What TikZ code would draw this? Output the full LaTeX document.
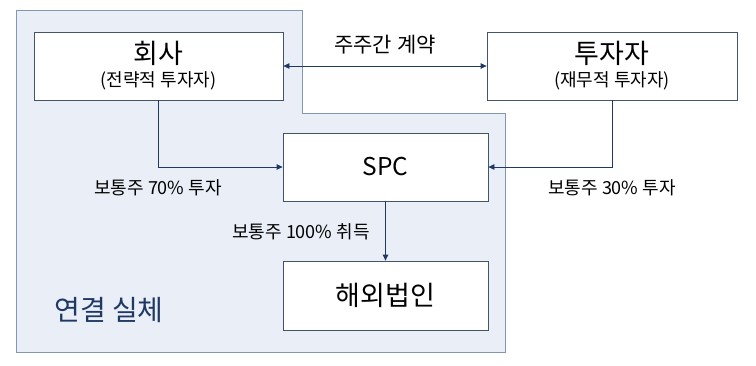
\documentclass[tikz,border=0pt]{standalone}
\usepackage{fontspec}
\setmainfont{Noto Sans CJK KR}
\usetikzlibrary{arrows.meta}
\definecolor{groupfill}{HTML}{E9EEF7}
\definecolor{groupline}{HTML}{8497B0}
\definecolor{boxline}{HTML}{44546A}
\definecolor{arrowblue}{HTML}{1F3864}
\newcommand{\bigtxt}{\fontsize{27}{30}\selectfont}
\newcommand{\smalltxt}{\fontsize{18}{21}\selectfont}
\begin{document}
\begin{tikzpicture}[x=1pt,y=-1pt,
  entity/.style={draw=boxline, fill=white, line width=0.8pt, inner sep=0pt,
    minimum height=68pt, align=center},
  flow/.style={-{Triangle[length=6pt,width=5.5pt]}, draw=arrowblue, line width=0.8pt},
  note/.style={font=\smalltxt, inner sep=0pt}]
  \useasboundingbox (0,0) rectangle (756,365);
  % consolidated group
  \draw[fill=groupfill, draw=groupline, line width=0.9pt]
    (16,10) -- (302,10) -- (302,113) -- (505,113) -- (505,352) -- (16,352) -- cycle;
  \node[text=arrowblue, font=\fontsize{28}{30}\selectfont] (group) at (109,310) {연결 실체};
  % entities
  \node[entity, minimum width=249pt] (hoesa) at (158.5,66)
    {{\bigtxt 회사}\\[5pt]{\smalltxt (전략적 투자자)}};
  \node[entity, minimum width=250pt] (tuja) at (612,66)
    {{\bigtxt 투자자}\\[5pt]{\smalltxt (재무적 투자자)}};
  \node[entity, minimum width=205pt, font=\fontsize{24.5}{27}\selectfont] (spc) at (385.5,167) {SPC};
  \node[entity, minimum width=205pt, minimum height=69pt, font=\bigtxt] (haeoe) at (385.5,295.5) {해외법인};
  % connectors
  \draw[flow, {Triangle[length=6pt,width=5.5pt]}-{Triangle[length=6pt,width=5.5pt]}]
    (hoesa.east) -- (tuja.west);
  \draw[flow] (hoesa.south) |- (spc.west);
  \draw[flow] (tuja.south) |- (spc.east);
  \draw[flow] (spc.south) -- (haeoe.north);
  % labels
  \node[note, font=\fontsize{21}{24}\selectfont] (contract) at (385,45) {주주간 계약};
  \node[note] (share70) at (158,188) {보통주 70\% 투자};
  \node[note] (share30) at (612,188) {보통주 30\% 투자};
  \node[note] (share100) at (301,232) {보통주 100\% 취득};
\end{tikzpicture}
\end{document}
